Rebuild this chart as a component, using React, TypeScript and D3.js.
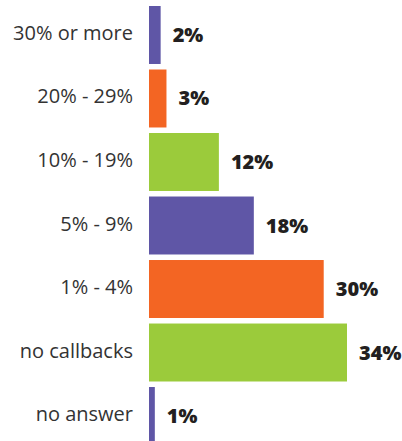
import * as d3 from "d3";
import { useEffect, useRef } from "react";

const categories = ["30% or more", "20% - 29%", "10% - 19%", "5% - 9%", "1% - 4%", "no callbacks", "no answer"];
const values = [2, 3, 12, 18, 30, 34, 1];
const barColors = ["#5f56a6", "#f36523", "#9bcb3b", "#5f56a6", "#f36523", "#9bcb3b", "#5f56a6"];

const App = () => {
    const ref = useRef(null);

    useEffect(() => {
        const width = 402, height = 441;
        const left = 149;

        const svg = d3.select(ref.current);
        svg.selectAll("*").remove();

        const yScale = d3.scaleBand()
            .domain(categories)
            .range([6, 445])
            .paddingInner(0.087)
            .paddingOuter(0);

        const xScale = d3.scaleLinear()
            .domain([0, 34])
            .range([left, left + 198]);

        const data = categories.map((c, i) => ({ cat: c, value: values[i], color: barColors[i] }));

        // bars
        svg.selectAll(".bar")
            .data(data)
            .enter()
            .append("rect")
            .attr("x", xScale(0))
            .attr("y", d => yScale(d.cat))
            .attr("width", d => xScale(d.value) - xScale(0))
            .attr("height", yScale.bandwidth())
            .attr("fill", d => d.color);

        // value labels
        svg.selectAll(".val")
            .data(data)
            .enter()
            .append("text")
            .attr("x", d => xScale(d.value) + 12)
            .attr("y", d => yScale(d.cat) + yScale.bandwidth() / 2)
            .attr("dy", "0.35em")
            .attr("fill", "#231f20")
            .style("font-family", "'Open Sans', sans-serif")
            .style("font-weight", 800)
            .style("font-size", "20px")
            .text(d => d.value + "%");

        // category labels
        svg.selectAll(".cat")
            .data(data)
            .enter()
            .append("text")
            .attr("x", 133)
            .attr("y", d => yScale(d.cat) + yScale.bandwidth() / 2 - 2)
            .attr("dy", "0.35em")
            .attr("text-anchor", "end")
            .attr("fill", "#333333")
            .style("font-family", "'Open Sans', sans-serif")
            .style("font-size", "20px")
            .text(d => d.cat);

        svg.attr("width", width).attr("height", height);
    }, []);

    return <>
        <style>{`body{margin:0}`}</style>
        <svg ref={ref} width={402} height={441} style={{ display: "block", background: "#fff" }}></svg>
    </>;
};

export default App;
